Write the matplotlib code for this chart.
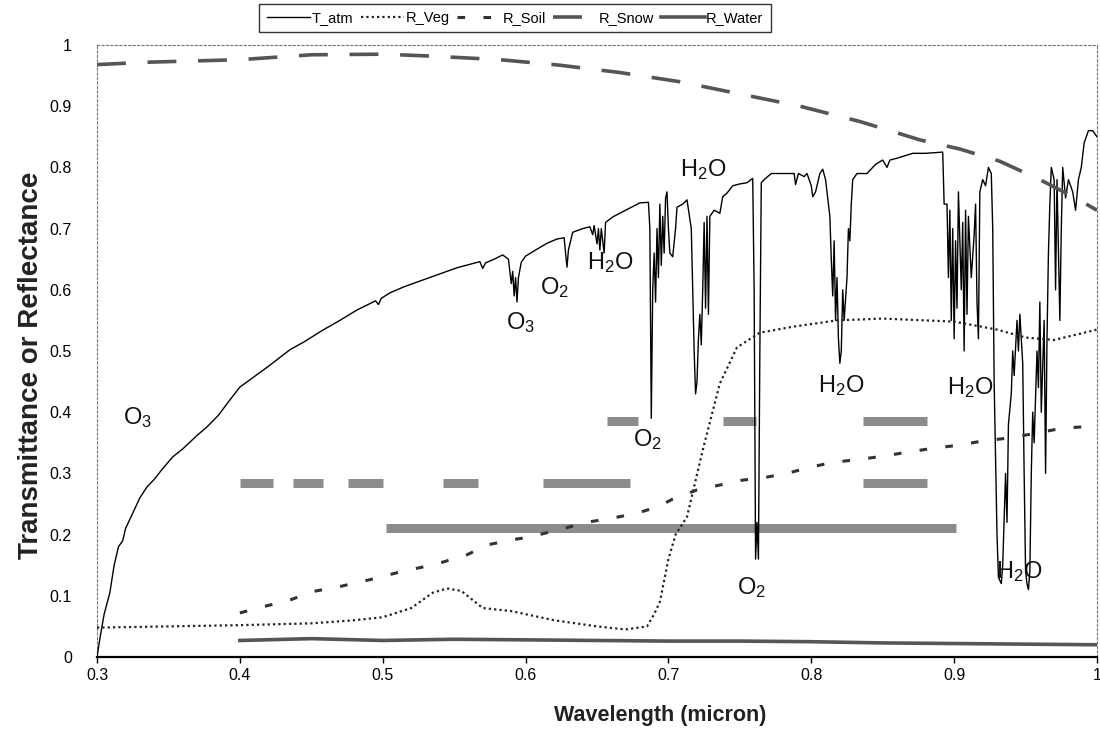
import matplotlib
matplotlib.use("Agg")
import matplotlib.pyplot as plt

plt.rcParams["font.family"] = ["Liberation Sans", "DejaVu Sans"]
plt.rcParams["mathtext.fontset"] = "custom"
plt.rcParams["mathtext.rm"] = "Liberation Sans"
plt.rcParams["mathtext.it"] = "Liberation Sans"

# Atmospheric transmittance
t_atm_x = [0.300, 0.302, 0.305, 0.309, 0.312, 0.315, 0.318, 0.320, 0.325, 0.330,
           0.335, 0.340, 0.345, 0.353, 0.360, 0.370, 0.377, 0.385, 0.393, 0.400,
           0.410, 0.420, 0.435, 0.445, 0.458, 0.470, 0.482, 0.495, 0.497, 0.499,
           0.505, 0.515, 0.528, 0.540, 0.552, 0.560, 0.568, 0.570, 0.572, 0.578,
           0.584, 0.588, 0.590, 0.591, 0.592, 0.593, 0.594, 0.595, 0.597, 0.600,
           0.607, 0.615, 0.622, 0.627, 0.628, 0.629, 0.630, 0.633, 0.640, 0.645,
           0.647, 0.648, 0.650, 0.651, 0.652, 0.653, 0.655, 0.656, 0.661, 0.670,
           0.680, 0.686, 0.687, 0.688, 0.689, 0.690, 0.691, 0.692, 0.693, 0.694,
           0.695, 0.696, 0.697, 0.698, 0.699, 0.700, 0.701, 0.703, 0.705, 0.706,
           0.710, 0.713, 0.716, 0.718, 0.719, 0.720, 0.721, 0.722, 0.723, 0.724,
           0.725, 0.726, 0.727, 0.728, 0.729, 0.732, 0.736, 0.738, 0.741, 0.745,
           0.750, 0.755, 0.759, 0.760, 0.761, 0.762, 0.763, 0.764, 0.765, 0.767,
           0.772, 0.780, 0.788, 0.789, 0.791, 0.795, 0.797, 0.800, 0.801, 0.803,
           0.806, 0.808, 0.810, 0.812, 0.813, 0.814, 0.815, 0.816, 0.817, 0.818,
           0.819, 0.820, 0.821, 0.822, 0.823, 0.825, 0.826, 0.827, 0.828, 0.829,
           0.832, 0.839, 0.845, 0.850, 0.853, 0.855, 0.860, 0.871, 0.880, 0.892,
           0.893, 0.895, 0.896, 0.897, 0.898, 0.899, 0.900, 0.901, 0.902, 0.903,
           0.905, 0.906, 0.907, 0.908, 0.909, 0.910, 0.912, 0.914, 0.915, 0.916,
           0.917, 0.918, 0.920, 0.922, 0.924, 0.926, 0.927, 0.928, 0.930, 0.931,
           0.933, 0.934, 0.936, 0.937, 0.938, 0.940, 0.941, 0.942, 0.944, 0.945,
           0.946, 0.948, 0.949, 0.950, 0.951, 0.952, 0.953, 0.954, 0.955, 0.956,
           0.958, 0.959, 0.960, 0.961, 0.963, 0.964, 0.965, 0.966, 0.967, 0.968,
           0.970, 0.971, 0.972, 0.974, 0.975, 0.976, 0.978, 0.980, 0.983, 0.985,
           0.987, 0.989, 0.991, 0.994, 0.997, 1.000]
t_atm_y = [0.000, 0.030, 0.070, 0.105, 0.150, 0.180, 0.190, 0.210, 0.235, 0.260,
           0.278, 0.290, 0.305, 0.327, 0.340, 0.362, 0.376, 0.395, 0.420, 0.441,
           0.458, 0.475, 0.502, 0.515, 0.534, 0.550, 0.567, 0.582, 0.576, 0.586,
           0.595, 0.605, 0.616, 0.626, 0.636, 0.641, 0.646, 0.635, 0.644, 0.650,
           0.657, 0.650, 0.610, 0.630, 0.590, 0.620, 0.580, 0.620, 0.645, 0.655,
           0.665, 0.676, 0.683, 0.685, 0.660, 0.637, 0.665, 0.694, 0.700, 0.703,
           0.690, 0.705, 0.675, 0.700, 0.665, 0.700, 0.660, 0.710, 0.719, 0.730,
           0.742, 0.743, 0.700, 0.390, 0.600, 0.660, 0.580, 0.700, 0.620, 0.740,
           0.640, 0.720, 0.660, 0.750, 0.760, 0.700, 0.660, 0.654, 0.700, 0.735,
           0.740, 0.747, 0.700, 0.500, 0.430, 0.450, 0.520, 0.560, 0.510, 0.600,
           0.710, 0.570, 0.720, 0.560, 0.720, 0.730, 0.725, 0.752, 0.758, 0.770,
           0.773, 0.775, 0.782, 0.600, 0.160, 0.220, 0.160, 0.500, 0.775, 0.780,
           0.790, 0.790, 0.790, 0.772, 0.790, 0.785, 0.790, 0.770, 0.752, 0.760,
           0.790, 0.797, 0.780, 0.740, 0.720, 0.650, 0.590, 0.680, 0.550, 0.620,
           0.520, 0.480, 0.500, 0.600, 0.550, 0.620, 0.700, 0.680, 0.740, 0.780,
           0.790, 0.790, 0.805, 0.812, 0.800, 0.812, 0.815, 0.823, 0.823, 0.825,
           0.740, 0.740, 0.620, 0.730, 0.550, 0.700, 0.520, 0.680, 0.570, 0.760,
           0.600, 0.710, 0.500, 0.730, 0.560, 0.720, 0.620, 0.690, 0.740, 0.580,
           0.520, 0.760, 0.780, 0.770, 0.800, 0.790, 0.700, 0.450, 0.200, 0.130,
           0.120, 0.150, 0.300, 0.220, 0.380, 0.430, 0.500, 0.460, 0.550, 0.500,
           0.560, 0.480, 0.300, 0.140, 0.120, 0.110, 0.140, 0.300, 0.400, 0.350,
           0.500, 0.440, 0.580, 0.400, 0.550, 0.300, 0.520, 0.660, 0.740, 0.800,
           0.780, 0.600, 0.780, 0.550, 0.700, 0.800, 0.750, 0.780, 0.760, 0.730,
           0.780, 0.800, 0.840, 0.860, 0.860, 0.850]

# Vegetation reflectance
veg_x = [0.300, 0.350, 0.400, 0.450, 0.480, 0.500, 0.520, 0.535, 0.545, 0.555,
         0.570, 0.590, 0.620, 0.650, 0.670, 0.685, 0.690, 0.694, 0.700, 0.705,
         0.713, 0.724, 0.736, 0.748, 0.764, 0.788, 0.818, 0.850, 0.900, 0.930,
         0.950, 0.970, 1.000]
veg_y = [0.048, 0.050, 0.052, 0.055, 0.060, 0.065, 0.080, 0.105, 0.112, 0.108,
         0.080, 0.075, 0.060, 0.050, 0.045, 0.050, 0.070, 0.090, 0.160, 0.200,
         0.229, 0.338, 0.447, 0.506, 0.530, 0.540, 0.550, 0.553, 0.548, 0.535,
         0.522, 0.518, 0.535]

# Soil reflectance
soil_x = [0.400, 0.416, 0.435, 0.451, 0.468, 0.479, 0.496, 0.512, 0.528, 0.542,
          0.559, 0.573, 0.589, 0.603, 0.645, 0.661, 0.678, 0.692, 0.703, 0.720,
          0.736, 0.752, 0.769, 0.783, 0.799, 0.815, 0.834, 0.850, 0.868, 0.885,
          0.903, 0.920, 0.939, 0.958, 0.976, 0.990, 1.000]
soil_y = [0.072, 0.082, 0.093, 0.107, 0.114, 0.120, 0.129, 0.139, 0.147, 0.155,
          0.167, 0.183, 0.191, 0.196, 0.221, 0.227, 0.235, 0.245, 0.258, 0.273,
          0.281, 0.289, 0.294, 0.300, 0.310, 0.318, 0.323, 0.328, 0.335, 0.341,
          0.346, 0.353, 0.358, 0.366, 0.374, 0.376, 0.376]

# Snow reflectance
snow_x = [0.300, 0.337, 0.400, 0.450, 0.500, 0.533, 0.582, 0.624, 0.666, 0.708,
          0.750, 0.792, 0.834, 0.876, 0.904, 0.932, 0.960, 0.985, 1.000]
snow_y = [0.968, 0.972, 0.976, 0.984, 0.985, 0.982, 0.976, 0.967, 0.955, 0.940,
          0.920, 0.900, 0.875, 0.845, 0.830, 0.810, 0.780, 0.750, 0.730]

# Water reflectance
water_x = [0.400, 0.450, 0.500, 0.550, 0.600, 0.650, 0.700, 0.750, 0.800, 0.850,
           0.900, 0.950, 1.000]
water_y = [0.027, 0.030, 0.027, 0.029, 0.028, 0.027, 0.026, 0.026, 0.025, 0.023,
           0.022, 0.021, 0.020]

# Sensor band bars
band_start = [0.400, 0.437, 0.476, 0.542, 0.612, 0.502, 0.657, 0.738, 0.836, 0.836]
band_end = [0.423, 0.458, 0.500, 0.567, 0.673, 0.901, 0.679, 0.761, 0.881, 0.881]
band_level = [0.285, 0.285, 0.285, 0.285, 0.285, 0.210, 0.385, 0.385, 0.385, 0.285]

# Absorber labels
gas_text = ["O$_3$", "O$_3$", "O$_2$", "H$_2$O", "H$_2$O", "O$_2$", "O$_2$",
            "H$_2$O", "H$_2$O", "H$_2$O"]
gas_x = [0.318, 0.586, 0.610, 0.643, 0.708, 0.675, 0.748, 0.805, 0.895, 0.929]
gas_y = [0.392, 0.547, 0.603, 0.644, 0.796, 0.355, 0.113, 0.443, 0.440, 0.140]


def make_plot():
    fig = plt.figure(figsize=(11, 7.44), dpi=100)
    ax = fig.add_axes([97 / 1100, 87 / 744, 1000 / 1100, 612 / 744])

    ax.hlines(band_level, band_start, band_end, colors="#8c8c8c",
              linewidth=6.5, zorder=1)

    ax.plot(t_atm_x, t_atm_y, color="black", linewidth=1.0, label="T_atm", zorder=3)
    ax.plot(veg_x, veg_y, color="#222222", linewidth=1.6,
            linestyle=(0, (1, 1.4)), label="R_Veg", zorder=3)
    ax.plot(soil_x, soil_y, color="#333333", linewidth=2.2,
            linestyle=(0, (2.5, 6)), label="R_Soil", zorder=3)
    ax.plot(snow_x, snow_y, color="#555555", linewidth=2.6,
            linestyle=(0, (8, 6)), label="R_Snow", zorder=3)
    ax.plot(water_x, water_y, color="#555555", linewidth=2.6,
            label="R_Water", zorder=3)

    for s, x, y in zip(gas_text, gas_x, gas_y):
        ax.text(x, y, s, fontsize=17, ha="left", va="center", color="#111111")

    ax.set_xlim(0.3, 1.0)
    ax.set_ylim(0, 1)
    xt = [0.3, 0.4, 0.5, 0.6, 0.7, 0.8, 0.9, 1.0]
    yt = [0, 0.1, 0.2, 0.3, 0.4, 0.5, 0.6, 0.7, 0.8, 0.9, 1.0]
    ax.set_xticks(xt)
    ax.set_xticklabels(["0.3", "0.4", "0.5", "0.6", "0.7", "0.8", "0.9", "1"])
    ax.set_yticks(yt)
    ax.set_yticklabels(["0", "0.1", "0.2", "0.3", "0.4", "0.5", "0.6", "0.7",
                        "0.8", "0.9", "1"])
    ax.tick_params(axis="x", length=4, width=1, pad=4, labelsize=11.5)
    ax.tick_params(axis="y", length=0, pad=18, labelsize=11.5)

    for side in ["left", "top", "right"]:
        ax.spines[side].set_color("#777777")
        ax.spines[side].set_linewidth(0.8)
        ax.spines[side].set_linestyle((0, (2, 2)))
    ax.spines["bottom"].set_linewidth(1.6)

    fig.text(31 / 1100, 1 - 365 / 744, "Transmittance or Reflectance",
             rotation=90, ha="center", va="center", fontsize=20,
             fontweight="bold", color="#222222")
    fig.text(660 / 1100, 1 - 716 / 744, "Wavelength (micron)",
             ha="center", va="center", fontsize=15.5, fontweight="bold",
             color="#222222")

    fig.legend(loc="center", bbox_to_anchor=(515 / 1100, 1 - 18 / 744),
               ncol=5, frameon=True, fancybox=False, edgecolor="black",
               fontsize=10.5, handlelength=3.0, handletextpad=0.1,
               columnspacing=0.5, borderpad=0.5, borderaxespad=0)

    fig.savefig("out.png", dpi=100)


if __name__ == "__main__":
    make_plot()
